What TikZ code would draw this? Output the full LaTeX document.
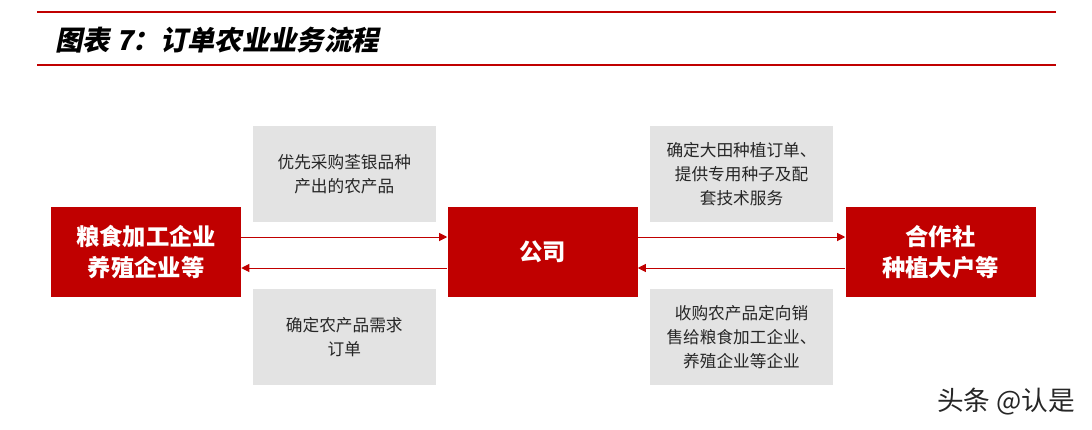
\documentclass[tikz,border=0pt]{standalone}
\usepackage{fontspec}
\usepackage{xcolor}
\newfontfamily\cjk{Noto Sans CJK SC}
\newfontfamily\cjkslant{Noto Sans CJK SC}[FakeSlant=0.2]
\usetikzlibrary{calc, positioning, arrows.meta}
\definecolor{hdred}{HTML}{C00000}
\definecolor{notegray}{HTML}{E3E3E3}
\definecolor{notetext}{HTML}{262626}
\tikzset{
    rule/.style={draw=hdred, line width=1.5pt},
    title/.style={font=\cjkslant\bfseries\fontsize{20.5}{24}\selectfont, anchor=west, inner sep=0pt},
    block/.style={rectangle, fill=hdred, text=white, align=center, minimum width=142.5pt, minimum height=67.5pt, font=\cjk\bfseries\fontsize{17.5}{23}\selectfont},
    note/.style={rectangle, fill=notegray, text=notetext, align=center, minimum width=137pt, minimum height=72pt, font=\cjk\fontsize{12.5}{18}\selectfont},
    arrow/.style={-{Triangle[length=6pt, width=6pt]}, draw=hdred, line width=0.75pt},
    stamp/.style={font=\cjk\fontsize{20}{24}\selectfont, text=black!85}
}
\begin{document}
\begin{tikzpicture}[x=0.75pt, y=-0.75pt]
    \useasboundingbox (0,0) rectangle (1092,429);
    % Header
    \draw[rule] (37,12) -- (1056,12);
    \draw[rule] (37,65) -- (1056,65);
    \node[title] (Title) at (55,40) {图表 7：订单农业业务流程};

    % Parties
    \node[block] (Buyer) at (146,252) {粮食加工企业\\养殖企业等};
    \node[block] (Firm) at (542.5,252) {公司};
    \node[block] (Farm) at (940.5,252) {合作社\\种植大户等};

    % Notes
    \node[note] (BuyNote) at ($(Buyer.east)!0.5!(Firm.west)+(0,-78)$) {优先采购荃银品种\\产出的农产品};
    \node[note] (OrderNote) at ($(Buyer.east)!0.5!(Firm.west)+(0,85)$) {确定农产品需求\\订单};
    \node[note] (PlantNote) at ($(Firm.east)!0.5!(Farm.west)+(0,-78)$) {确定大田种植订单、\\提供专用种子及配\\套技术服务};
    \node[note] (SellNote) at ($(Firm.east)!0.5!(Farm.west)+(0,85)$) {收购农产品定向销\\售给粮食加工企业、\\养殖企业等企业};

    % Connections
    \draw[arrow] ([yshift=11.25pt]Buyer.east) -- ([yshift=11.25pt]Firm.west);
    \draw[arrow] ([yshift=-12pt]Firm.west) -- ([yshift=-12pt]Buyer.east);
    \draw[arrow] ([yshift=11.25pt]Firm.east) -- ([yshift=11.25pt]Farm.west);
    \draw[arrow] ([yshift=-12pt]Farm.west) -- ([yshift=-12pt]Firm.east);

    % Watermark
    \node[stamp] (Stamp) at (1006,402) {头条 @认是};
\end{tikzpicture}
\end{document}
